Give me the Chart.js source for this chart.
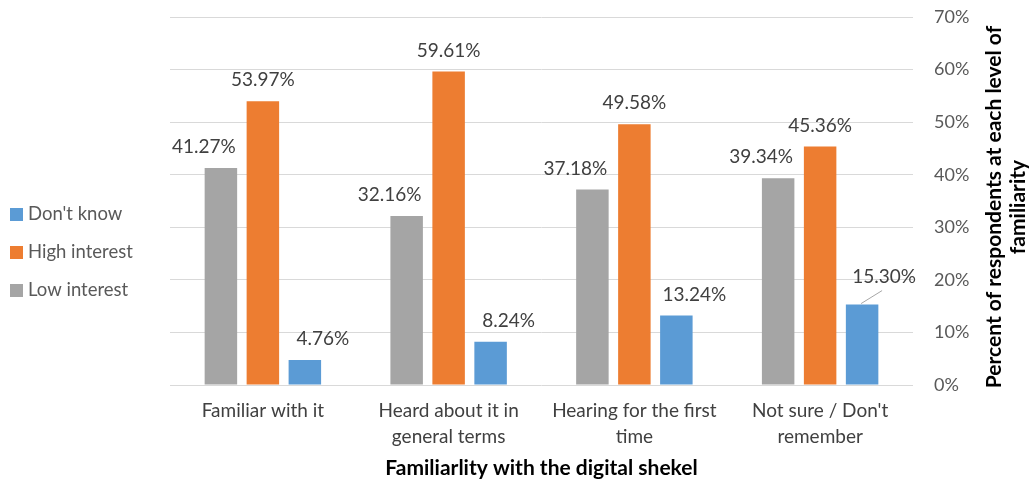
<!DOCTYPE html>
<html>
<head>
<meta charset="utf-8">
<script src="https://cdn.jsdelivr.net/npm/chart.js@4/dist/chart.umd.min.js"></script>
<style>
  html, body { margin: 0; padding: 0; background: #fff; }
  #wrap { width: 1029px; height: 484px; position: relative; }
</style>
</head>
<body>
<div id="wrap"><canvas id="c" width="1029" height="484"></canvas></div>
<script>
const categories = [
  'Familiar with it',
  ['Heard about it in', 'general terms'],
  ['Hearing for the first', 'time'],
  ['Not sure / Don\'t', 'remember']
];
const lowInterest = [41.27, 32.16, 37.18, 39.34];
const highInterest = [53.97, 59.61, 49.58, 45.36];
const dontKnow = [4.76, 8.24, 13.24, 15.30];
const tickValues = [0, 10, 20, 30, 40, 50, 60, 70];
const legendOrder = ["Don't know", 'High interest', 'Low interest'];
const xTitle = 'Familiarlity with the digital shekel';
const yTitle = ['Percent of respondents at each level of', 'familiarity'];

const FONT = 'Lato, "Liberation Sans", sans-serif';
const colors = { low: '#A5A5A5', high: '#ED7D31', dk: '#5B9BD5' };

const dataLabels = {
  id: 'dataLabels',
  afterDatasetsDraw(chart) {
    const ctx = chart.ctx;
    const shifts = [-17, 0, 18];
    ctx.save();
    ctx.font = '19px ' + FONT;
    ctx.fillStyle = '#404040';
    ctx.textAlign = 'center';
    ctx.textBaseline = 'middle';
    chart.data.datasets.forEach((ds, di) => {
      const meta = chart.getDatasetMeta(di);
      meta.data.forEach((bar, i) => {
        const txt = ds.data[i].toFixed(2) + '%';
        let dx = shifts[di], dy = -21;
        if (di === 2 && i === 3) {
          dx = 22; dy = -28;
          ctx.strokeStyle = '#A6A6A6';
          ctx.lineWidth = 1;
          ctx.beginPath();
          ctx.moveTo(bar.x - 1, bar.y - 1);
          ctx.lineTo(bar.x + 20, bar.y - 14);
          ctx.stroke();
        }
        ctx.fillText(txt, bar.x + dx, bar.y + dy);
      });
    });
    ctx.restore();
  }
};

const extras = {
  id: 'extras',
  afterDraw(chart) {
    const ctx = chart.ctx;
    const area = chart.chartArea;
    ctx.save();
    // legend
    const legendColors = [colors.dk, colors.high, colors.low];
    const ys = [214.5, 252.5, 290.5];
    ctx.font = '18.5px ' + FONT;
    ctx.textBaseline = 'middle';
    ctx.textAlign = 'left';
    legendOrder.forEach((t, i) => {
      ctx.fillStyle = legendColors[i];
      ctx.fillRect(10, ys[i] - 6.5, 13, 13);
      ctx.fillStyle = '#595959';
      ctx.fillText(t, 28, ys[i]);
    });
    // right axis title, rotated reading bottom-to-top
    const cy = (area.top + area.bottom) / 2 + 6;
    ctx.font = 'bold 21px ' + FONT;
    ctx.fillStyle = '#000000';
    ctx.textAlign = 'center';
    const xs = [994, 1018];
    yTitle.forEach((t, i) => {
      ctx.save();
      ctx.translate(xs[i], cy);
      ctx.rotate(-Math.PI / 2);
      ctx.fillText(t, 0, 0);
      ctx.restore();
    });
    ctx.restore();
  }
};

new Chart(document.getElementById('c'), {
  type: 'bar',
  data: {
    labels: categories,
    datasets: [
      { label: 'Low interest', data: lowInterest, backgroundColor: colors.low },
      { label: 'High interest', data: highInterest, backgroundColor: colors.high },
      { label: "Don't know", data: dontKnow, backgroundColor: colors.dk }
    ]
  },
  options: {
    responsive: false,
    animation: false,
    events: [],
    layout: { padding: { left: 170, top: 17, right: 0, bottom: 0 } },
    datasets: { bar: { barPercentage: 0.774, categoryPercentage: 0.678 } },
    plugins: {
      legend: { display: false },
      tooltip: { enabled: false }
    },
    scales: {
      x: {
        grid: { display: false, drawTicks: false },
        border: { display: false },
        ticks: {
          color: '#404040',
          font: { family: FONT, size: 19, lineHeight: 1.37 },
          padding: 13,
          maxRotation: 0,
          autoSkip: false
        },
        title: {
          display: true,
          text: xTitle,
          color: '#000000',
          font: { family: FONT, size: 21, weight: 'bold' },
          padding: { top: 2, bottom: 3 }
        },
        afterFit(s) { s.height = 99; }
      },
      y: {
        position: 'right',
        min: 0,
        max: 70,
        afterBuildTicks(s) { s.ticks = tickValues.map(v => ({ value: v })); },
        grid: { color: '#D9D9D9', lineWidth: 1, drawTicks: true, tickLength: 21, tickColor: 'rgba(0,0,0,0)' },
        border: { display: false },
        ticks: {
          color: '#595959',
          font: { family: FONT, size: 18 },
          padding: 0,
          callback: v => v + '%'
        },
        afterFit(s) { s.width = 116; }
      }
    }
  },
  plugins: [dataLabels, extras]
});
</script>
</body>
</html>
